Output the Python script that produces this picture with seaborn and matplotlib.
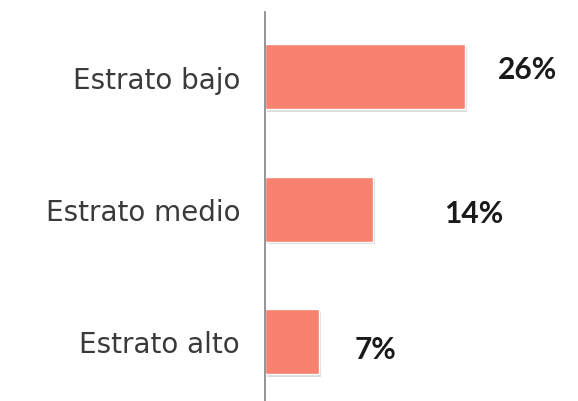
import matplotlib
matplotlib.use("Agg")
import matplotlib.pyplot as plt
import matplotlib.patheffects as pe
import seaborn as sns
import pandas as pd

# Data
categories = ['Estrato bajo', 'Estrato medio', 'Estrato alto']
values = [26, 14, 7]
value_labels = ['26%', '14%', '7%']

df = pd.DataFrame({'Estrato': categories, 'Pct': values})

# label nudges (x in %, y in bar units) to match the original slide
label_dx = [4.2, 9.3, 4.6]
label_dy = [-0.06, 0.03, 0.06]

bar_color = '#F7826F'
axis_color = '#8C8C8C'

sns.set_theme(style="white")
plt.rcParams['font.family'] = ['DejaVu Sans']

fig = plt.figure(figsize=(5.78, 4.02), dpi=100)
ax = fig.add_axes([0.4585, 0.0, 0.533, 0.968])

sns.barplot(x='Pct', y='Estrato', data=df, color=bar_color, width=0.49,
            saturation=1, ax=ax, orient='h')

for p in ax.patches:
    p.set_path_effects([pe.SimplePatchShadow(offset=(1.5, -2), alpha=0.25,
                                             shadow_rgbFace='#777777'),
                        pe.Normal()])

# Value labels
for i, v in enumerate(values):
    ax.text(v + label_dx[i], i + label_dy[i], value_labels[i], va='center',
            ha='left', fontsize=21.5, fontweight='bold', color='#1a1a1a',
            family=['Lato', 'DejaVu Sans'])

ax.set_xlim(0, 40)
ax.set_ylim(2.45, -0.49)
ax.set_xlabel('')
ax.set_ylabel('')
ax.set_xticks([])
ax.tick_params(axis='y', length=0, pad=18, labelsize=20, labelcolor='#3a3a3a')

sns.despine(ax=ax, top=True, right=True, bottom=True, left=False)
ax.spines['left'].set_color(axis_color)
ax.spines['left'].set_linewidth(1.3)

fig.savefig('out.png', dpi=100)
